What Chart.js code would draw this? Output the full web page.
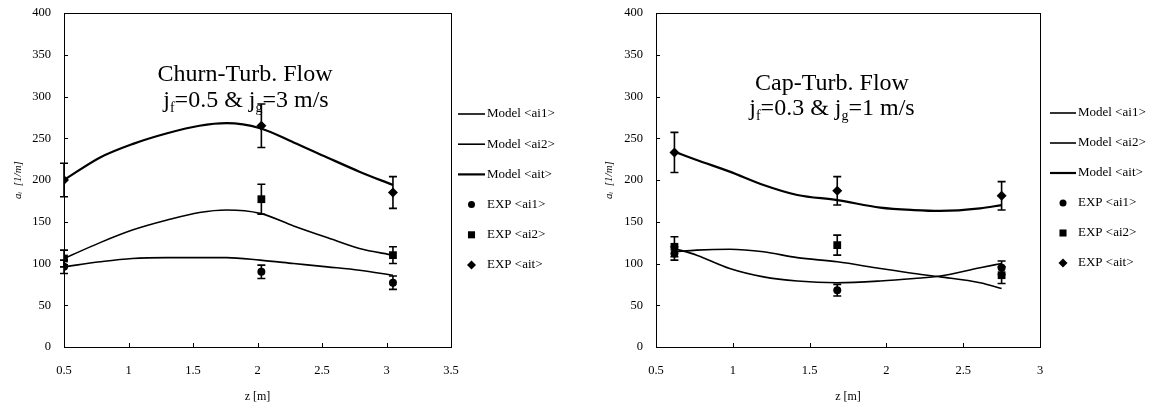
<!DOCTYPE html>
<html>
<head>
<meta charset="utf-8">
<script src="https://cdn.jsdelivr.net/npm/chart.js@4.4.0/dist/chart.umd.min.js"></script>
<style>
  body { margin: 0; background: #fff; }
  .panel { position: absolute; top: 0; }
  #leftPanel { left: 0; }
  #rightPanel { left: 580px; }
</style>
</head>
<body>
<div class="panel" id="leftPanel"><canvas id="leftChart" width="580" height="407"></canvas></div>
<div class="panel" id="rightPanel"><canvas id="rightChart" width="573" height="407"></canvas></div>
<script>
// Series labels (shared by both panels)
const seriesLabels = ['Model <ai1>', 'Model <ai2>', 'Model <ait>', 'EXP <ai1>', 'EXP <ai2>', 'EXP <ait>'];

// Left panel: Churn-Turb. Flow
const leftModelZ = [0.5, 0.78, 1.03, 1.30, 1.55, 1.76, 2.02, 2.28, 2.54, 2.79, 3.05];
const leftModelAi1 = [96, 102, 106, 107, 107, 107, 104, 100, 96, 92, 86];
const leftModelAi2 = [106, 125, 140, 152, 161, 164, 160, 145, 131, 118, 110];
const leftModelAit = [200, 227, 243, 256, 265, 268, 262, 245, 227, 210, 194];
const leftExpZ = [0.5, 2.03, 3.05];
const leftExpAi1 = [96, 90, 77];
const leftExpAi2 = [106, 177, 110];
const leftExpAit = [200, 265, 185];
const leftErrAi1 = [8, 8, 8];
const leftErrAi2 = [10, 18, 10];
const leftErrAit = [20, 26, 19];

// Right panel: Cap-Turb. Flow
const rightModelZ = [0.62, 0.765, 0.98, 1.20, 1.42, 1.68, 1.96, 2.18, 2.35, 2.61, 2.75];
const rightModelAi1 = [118, 110, 94, 84, 79, 77, 79, 82, 85, 95, 100];
const rightModelAi2 = [114, 116, 117, 114, 107, 102, 94, 88, 84, 77, 70];
const rightModelAit = [234, 224, 210, 194, 182, 176, 167, 164, 163, 166, 170];
const rightExpZ = [0.62, 1.68, 2.75];
const rightExpAi1 = [112, 68, 95];
const rightExpAi2 = [120, 122, 86];
const rightExpAit = [233, 187, 181];
const rightErrAi1 = [8, 7, 8];
const rightErrAi2 = [12, 12, 10];
const rightErrAit = [24, 17, 17];

// Axis settings
const yMin = 0;
const yMax = 400;
const yStep = 50;
const xStep = 0.5;

const serif = '"Liberation Serif", "DejaVu Serif", serif';

// Zip two arrays into {x, y} points
function toPoints(xs, ys) {
    return xs.map((x, i) => ({ x: x, y: ys[i] }));
}

// Build the six datasets of one panel
function buildDatasets(p) {
    const model = (label, ys, width) => ({
        label: label,
        data: toPoints(p.modelZ, ys),
        showLine: true,
        borderColor: '#000',
        borderWidth: width,
        pointRadius: 0,
        cubicInterpolationMode: 'monotone',
        fill: false
    });
    const exp = (label, ys, errs, style, radius) => ({
        label: label,
        data: toPoints(p.expZ, ys),
        errors: errs,
        showLine: false,
        pointStyle: style,
        pointRadius: radius,
        backgroundColor: '#000',
        borderColor: '#000',
        borderWidth: 0
    });
    return [
        model(seriesLabels[0], p.ai1, 1.6),
        model(seriesLabels[1], p.ai2, 1.6),
        model(seriesLabels[2], p.ait, 2.2),
        exp(seriesLabels[3], p.e1, p.err1, 'circle', 4),
        exp(seriesLabels[4], p.e2, p.err2, 'rect', 5.5),
        exp(seriesLabels[5], p.et, p.errt, 'rectRot', 5)
    ];
}

// Frame around the plot and small inward tick marks
const framePlugin = {
    id: 'frame',
    afterDraw(chart) {
        const { ctx, chartArea: a, scales } = chart;
        ctx.save();
        ctx.strokeStyle = '#000';
        ctx.lineWidth = 1;
        ctx.strokeRect(a.left + 0.5, a.top + 0.5, a.right - a.left, a.bottom - a.top);
        ctx.beginPath();
        scales.x.ticks.forEach(t => {
            const px = Math.round(scales.x.getPixelForValue(t.value)) + 0.5;
            ctx.moveTo(px, a.bottom);
            ctx.lineTo(px, a.bottom - 4);
        });
        scales.y.ticks.forEach(t => {
            const py = Math.round(scales.y.getPixelForValue(t.value)) + 0.5;
            ctx.moveTo(a.left, py);
            ctx.lineTo(a.left + 4, py);
        });
        ctx.stroke();
        ctx.restore();
    }
};

// Vertical error bars with caps
const errorBarPlugin = {
    id: 'errorBars',
    afterDatasetsDraw(chart) {
        const { ctx } = chart;
        const y = chart.scales.y;
        ctx.save();
        ctx.strokeStyle = '#000';
        ctx.lineWidth = 1.6;
        chart.data.datasets.forEach((ds, i) => {
            if (!ds.errors) return;
            const meta = chart.getDatasetMeta(i);
            meta.data.forEach((pt, j) => {
                const top = y.getPixelForValue(ds.data[j].y + ds.errors[j]);
                const bot = y.getPixelForValue(ds.data[j].y - ds.errors[j]);
                ctx.beginPath();
                ctx.moveTo(pt.x, top);
                ctx.lineTo(pt.x, bot);
                ctx.moveTo(pt.x - 4, top);
                ctx.lineTo(pt.x + 4, top);
                ctx.moveTo(pt.x - 4, bot);
                ctx.lineTo(pt.x + 4, bot);
                ctx.stroke();
            });
        });
        ctx.restore();
    }
};

// Legend at the right of the plot
const sideLegendPlugin = {
    id: 'sideLegend',
    afterDraw(chart, args, opts) {
        const { ctx, chartArea } = chart;
        const x0 = chartArea.right + opts.offset;
        ctx.save();
        ctx.font = '13px ' + serif;
        ctx.textBaseline = 'middle';
        ctx.fillStyle = '#000';
        ctx.strokeStyle = '#000';
        chart.data.datasets.forEach((ds, i) => {
            const yy = opts.top + i * opts.step;
            if (ds.showLine) {
                ctx.lineWidth = ds.borderWidth;
                ctx.beginPath();
                ctx.moveTo(x0, yy);
                ctx.lineTo(x0 + opts.length, yy);
                ctx.stroke();
            } else {
                Chart.helpers.drawPoint(ctx, {
                    pointStyle: ds.pointStyle,
                    radius: ds.pointRadius - 0.5,
                    borderWidth: 0,
                    rotation: 0
                }, x0 + opts.length / 2, yy);
            }
            ctx.fillText(ds.label, x0 + opts.length + 2, yy);
        });
        ctx.restore();
    }
};

// Panel title with subscripts, drawn inside the plot
const panelTitlePlugin = {
    id: 'panelTitle',
    afterDraw(chart, args, opts) {
        const { ctx } = chart;
        ctx.save();
        ctx.fillStyle = '#000';
        ctx.textBaseline = 'alphabetic';
        opts.lines.forEach(line => {
            const big = opts.size + 'px ' + serif;
            const small = Math.round(opts.size * 0.6) + 'px ' + serif;
            let total = 0;
            line.parts.forEach(pt => {
                ctx.font = pt[1] ? small : big;
                total += ctx.measureText(pt[0]).width;
            });
            let x = line.x - total / 2;
            line.parts.forEach(pt => {
                ctx.font = pt[1] ? small : big;
                ctx.fillText(pt[0], x, line.y + (pt[1] ? 5 : 0));
                x += ctx.measureText(pt[0]).width;
            });
        });
        ctx.restore();
    }
};

// Scales of one panel
function makeScales(xMax, yAxisWidth, yTitlePad) {
    const tickFont = { family: serif, size: 12.5 };
    return {
        x: {
            type: 'linear',
            min: 0.5,
            max: xMax,
            ticks: { stepSize: xStep, padding: 16, color: '#000', font: tickFont, callback: v => String(v) },
            grid: { display: false, drawTicks: false },
            border: { color: '#000' },
            title: {
                display: true,
                text: 'z [m]',
                color: '#000',
                font: { family: serif, size: 12 },
                padding: { top: 0, bottom: 3 }
            },
            afterFit: s => { s.height = 60; }
        },
        y: {
            type: 'linear',
            min: yMin,
            max: yMax,
            ticks: { stepSize: yStep, padding: 13, color: '#000', font: tickFont, callback: v => String(v) },
            grid: { display: false, drawTicks: false },
            border: { color: '#000' },
            title: {
                display: true,
                text: 'aᵢ  [1/m]',
                color: '#000',
                font: { family: serif, size: 11, style: 'italic' },
                padding: { top: yTitlePad, bottom: 0 }
            },
            afterFit: s => {
                s.width = yAxisWidth;
                s.paddingTop = 0;
                s.paddingBottom = 0;
            }
        }
    };
}

// Create one panel chart
function makeChart(canvasId, datasets, cfg) {
    return new Chart(document.getElementById(canvasId), {
        type: 'scatter',
        data: { datasets: datasets },
        options: {
            responsive: false,
            animation: false,
            layout: { padding: { left: 0, right: cfg.padRight, top: 13, bottom: 0 } },
            scales: makeScales(cfg.xMax, cfg.yAxisWidth, cfg.yTitlePad),
            plugins: {
                legend: { display: false },
                tooltip: { enabled: false },
                sideLegend: cfg.legend,
                panelTitle: cfg.title
            }
        },
        plugins: [framePlugin, errorBarPlugin, sideLegendPlugin, panelTitlePlugin]
    });
}

// Initialize
function init() {
    makeChart('leftChart', buildDatasets({
        modelZ: leftModelZ, ai1: leftModelAi1, ai2: leftModelAi2, ait: leftModelAit,
        expZ: leftExpZ, e1: leftExpAi1, e2: leftExpAi2, et: leftExpAit,
        err1: leftErrAi1, err2: leftErrAi2, errt: leftErrAit
    }), {
        xMax: 3.5,
        padRight: 129,
        yAxisWidth: 64,
        yTitlePad: 12,
        legend: { offset: 7, length: 27, top: 114, step: 30.2 },
        title: {
            size: 24,
            lines: [
                { x: 245, y: 81, parts: [['Churn-Turb. Flow', false]] },
                { x: 246, y: 107, parts: [['j', false], ['f', true], ['=0.5 & j', false], ['g', true], ['=3 m/s', false]] }
            ]
        }
    });

    makeChart('rightChart', buildDatasets({
        modelZ: rightModelZ, ai1: rightModelAi1, ai2: rightModelAi2, ait: rightModelAit,
        expZ: rightExpZ, e1: rightExpAi1, e2: rightExpAi2, et: rightExpAit,
        err1: rightErrAi1, err2: rightErrAi2, errt: rightErrAit
    }), {
        xMax: 3,
        padRight: 113,
        yAxisWidth: 76,
        yTitlePad: 23,
        legend: { offset: 10, length: 26, top: 113, step: 30 },
        title: {
            size: 24,
            lines: [
                { x: 252, y: 90, parts: [['Cap-Turb. Flow', false]] },
                { x: 252, y: 115, parts: [['j', false], ['f', true], ['=0.3 & j', false], ['g', true], ['=1 m/s', false]] }
            ]
        }
    });
}

document.addEventListener('DOMContentLoaded', init);
</script>
</body>
</html>
